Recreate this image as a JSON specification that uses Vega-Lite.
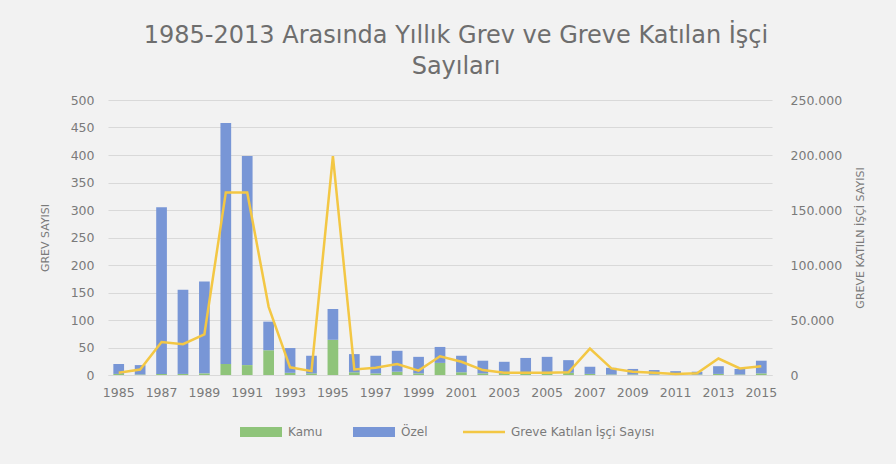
{
  "$schema": "https://vega.github.io/schema/vega-lite/v6.json",
  "autosize": {"type": "none"},
  "width": 664,
  "height": 275,
  "padding": {"left": 108, "top": 100, "right": 124, "bottom": 89},
  "background": "#f2f2f2",
  "title": {
    "text": ["1985-2013 Arasında Yıllık Grev ve Greve Katılan İşçi", "Sayıları"],
    "anchor": "middle",
    "dx": 16,
    "fontSize": 24,
    "font": "DejaVu Sans",
    "fontWeight": "normal",
    "color": "#6e6e6e",
    "lineHeight": 31,
    "offset": 15
  },
  "datasets": {
    "grev": [
      {"yil": "1985", "tip": "Kamu", "grev": 2}, {"yil": "1985", "tip": "Özel", "grev": 18},
      {"yil": "1986", "tip": "Kamu", "grev": 1}, {"yil": "1986", "tip": "Özel", "grev": 17},
      {"yil": "1987", "tip": "Kamu", "grev": 2}, {"yil": "1987", "tip": "Özel", "grev": 303},
      {"yil": "1988", "tip": "Kamu", "grev": 2}, {"yil": "1988", "tip": "Özel", "grev": 153},
      {"yil": "1989", "tip": "Kamu", "grev": 3}, {"yil": "1989", "tip": "Özel", "grev": 167},
      {"yil": "1990", "tip": "Kamu", "grev": 20}, {"yil": "1990", "tip": "Özel", "grev": 438},
      {"yil": "1991", "tip": "Kamu", "grev": 18}, {"yil": "1991", "tip": "Özel", "grev": 380},
      {"yil": "1992", "tip": "Kamu", "grev": 45}, {"yil": "1992", "tip": "Özel", "grev": 52},
      {"yil": "1993", "tip": "Kamu", "grev": 4}, {"yil": "1993", "tip": "Özel", "grev": 45},
      {"yil": "1994", "tip": "Kamu", "grev": 3}, {"yil": "1994", "tip": "Özel", "grev": 32},
      {"yil": "1995", "tip": "Kamu", "grev": 64}, {"yil": "1995", "tip": "Özel", "grev": 56},
      {"yil": "1996", "tip": "Kamu", "grev": 5}, {"yil": "1996", "tip": "Özel", "grev": 33},
      {"yil": "1997", "tip": "Kamu", "grev": 3}, {"yil": "1997", "tip": "Özel", "grev": 32},
      {"yil": "1998", "tip": "Kamu", "grev": 6}, {"yil": "1998", "tip": "Özel", "grev": 38},
      {"yil": "1999", "tip": "Kamu", "grev": 3}, {"yil": "1999", "tip": "Özel", "grev": 30},
      {"yil": "2000", "tip": "Kamu", "grev": 22}, {"yil": "2000", "tip": "Özel", "grev": 29},
      {"yil": "2001", "tip": "Kamu", "grev": 5}, {"yil": "2001", "tip": "Özel", "grev": 30},
      {"yil": "2002", "tip": "Kamu", "grev": 3}, {"yil": "2002", "tip": "Özel", "grev": 23},
      {"yil": "2003", "tip": "Kamu", "grev": 2}, {"yil": "2003", "tip": "Özel", "grev": 22},
      {"yil": "2004", "tip": "Kamu", "grev": 2}, {"yil": "2004", "tip": "Özel", "grev": 29},
      {"yil": "2005", "tip": "Kamu", "grev": 3}, {"yil": "2005", "tip": "Özel", "grev": 30},
      {"yil": "2006", "tip": "Kamu", "grev": 4}, {"yil": "2006", "tip": "Özel", "grev": 23},
      {"yil": "2007", "tip": "Kamu", "grev": 2}, {"yil": "2007", "tip": "Özel", "grev": 13},
      {"yil": "2008", "tip": "Kamu", "grev": 1}, {"yil": "2008", "tip": "Özel", "grev": 12},
      {"yil": "2009", "tip": "Kamu", "grev": 1}, {"yil": "2009", "tip": "Özel", "grev": 10},
      {"yil": "2010", "tip": "Kamu", "grev": 1}, {"yil": "2010", "tip": "Özel", "grev": 8},
      {"yil": "2011", "tip": "Kamu", "grev": 1}, {"yil": "2011", "tip": "Özel", "grev": 6},
      {"yil": "2012", "tip": "Kamu", "grev": 1}, {"yil": "2012", "tip": "Özel", "grev": 5},
      {"yil": "2013", "tip": "Kamu", "grev": 2}, {"yil": "2013", "tip": "Özel", "grev": 14},
      {"yil": "2014", "tip": "Kamu", "grev": 1}, {"yil": "2014", "tip": "Özel", "grev": 10},
      {"yil": "2015", "tip": "Kamu", "grev": 3}, {"yil": "2015", "tip": "Özel", "grev": 23}
    ],
    "isci": [
      {"yil": "1985", "isci": 2000}, {"yil": "1986", "isci": 5000}, {"yil": "1987", "isci": 30000},
      {"yil": "1988", "isci": 28000}, {"yil": "1989", "isci": 37000}, {"yil": "1990", "isci": 166000},
      {"yil": "1991", "isci": 166000}, {"yil": "1992", "isci": 62000}, {"yil": "1993", "isci": 7000},
      {"yil": "1994", "isci": 3500}, {"yil": "1995", "isci": 199000}, {"yil": "1996", "isci": 5000},
      {"yil": "1997", "isci": 6500}, {"yil": "1998", "isci": 10000}, {"yil": "1999", "isci": 4000},
      {"yil": "2000", "isci": 17000}, {"yil": "2001", "isci": 12000}, {"yil": "2002", "isci": 4500},
      {"yil": "2003", "isci": 2000}, {"yil": "2004", "isci": 2000}, {"yil": "2005", "isci": 2000},
      {"yil": "2006", "isci": 2500}, {"yil": "2007", "isci": 24000}, {"yil": "2008", "isci": 6000},
      {"yil": "2009", "isci": 3000}, {"yil": "2010", "isci": 2000}, {"yil": "2011", "isci": 1000},
      {"yil": "2012", "isci": 1500}, {"yil": "2013", "isci": 15000}, {"yil": "2014", "isci": 6000},
      {"yil": "2015", "isci": 8000}
    ]
  },
  "encoding": {
    "x": {
      "field": "yil",
      "type": "ordinal",
      "scale": {"paddingInner": 0.5, "paddingOuter": 0.25},
      "axis": {
        "title": null,
        "labelAngle": 0,
        "values": ["1985","1987","1989","1991","1993","1995","1997","1999","2001","2003","2005","2007","2009","2011","2013","2015"],
        "ticks": false,
        "domain": true,
        "domainColor": "#d9d9d9",
        "labelPadding": 11,
        "labelFontSize": 12.5,
        "labelColor": "#7a7a7a",
        "labelFont": "DejaVu Sans"
      }
    }
  },
  "layer": [
    {
      "data": {"name": "grev"},
      "mark": {"type": "bar"},
      "encoding": {
        "y": {
          "field": "grev",
          "type": "quantitative",
          "aggregate": "sum",
          "stack": "zero",
          "scale": {"domain": [0, 500]},
          "axis": {
            "title": "GREV SAYISI",
            "orient": "left",
            "values": [0, 50, 100, 150, 200, 250, 300, 350, 400, 450, 500],
            "grid": true,
            "gridColor": "#d9d9d9",
            "ticks": false,
            "domain": false,
            "labelPadding": 14,
            "labelFontSize": 12.5,
            "labelColor": "#7a7a7a",
            "labelFont": "DejaVu Sans",
            "titleFont": "DejaVu Sans",
            "titleFontSize": 11,
            "titleFontWeight": "normal",
            "titleColor": "#7a7a7a",
            "titlePadding": 20
          }
        },
        "color": {
          "field": "tip",
          "type": "nominal",
          "scale": {
            "domain": ["Kamu", "Özel", "Greve Katılan İşçi Sayısı"],
            "range": ["#8fc47a", "#7896d6", "#f3c744"]
          },
          "legend": {
            "title": null,
            "orient": "none",
            "direction": "horizontal",
            "legendX": 147,
            "legendY": 326,
            "symbolSize": 1764,
            "labelOffset": 21,
            "columnPadding": 30,
            "labelFontSize": 12,
            "labelColor": "#7a7a7a",
            "labelFont": "DejaVu Sans",
            "encode": {
              "symbols": {
                "update": {
                  "shape": {"signal": "datum.value === 'Greve Katılan İşçi Sayısı' ? 'M-1,0H1' : 'M-1,-0.24H1V0.24H-1Z'"},
                  "fill": {"signal": "datum.value === 'Greve Katılan İşçi Sayısı' ? 'transparent' : scale('color', datum.value)"},
                  "stroke": {"signal": "scale('color', datum.value)"},
                  "strokeWidth": {"signal": "datum.value === 'Greve Katılan İşçi Sayısı' ? 2.5 : 0"},
                  "opacity": {"value": 1}
                }
              }
            }
          }
        },
        "order": {"field": "tip", "sort": "ascending"}
      }
    },
    {
      "data": {"name": "isci"},
      "mark": {"type": "line", "strokeWidth": 2.5},
      "encoding": {
        "y": {
          "field": "isci",
          "type": "quantitative",
          "scale": {"domain": [0, 250000]},
          "axis": {
            "title": "GREVE KATILN İŞÇİ SAYISI",
            "orient": "right",
            "values": [0, 50000, 100000, 150000, 200000, 250000],
            "labelExpr": "replace(format(datum.value, ','), /,/g, '.')",
            "grid": false,
            "ticks": false,
            "domain": false,
            "labelPadding": 18,
            "labelFontSize": 12.5,
            "labelColor": "#7a7a7a",
            "labelFont": "DejaVu Sans",
            "titleFont": "DejaVu Sans",
            "titleFontSize": 11,
            "titleFontWeight": "normal",
            "titleColor": "#7a7a7a",
            "titleAngle": 270,
            "titlePadding": 24
          }
        },
        "color": {"datum": "Greve Katılan İşçi Sayısı"}
      }
    }
  ],
  "resolve": {"scale": {"y": "independent"}},
  "config": {
    "view": {"stroke": null}
  }
}
